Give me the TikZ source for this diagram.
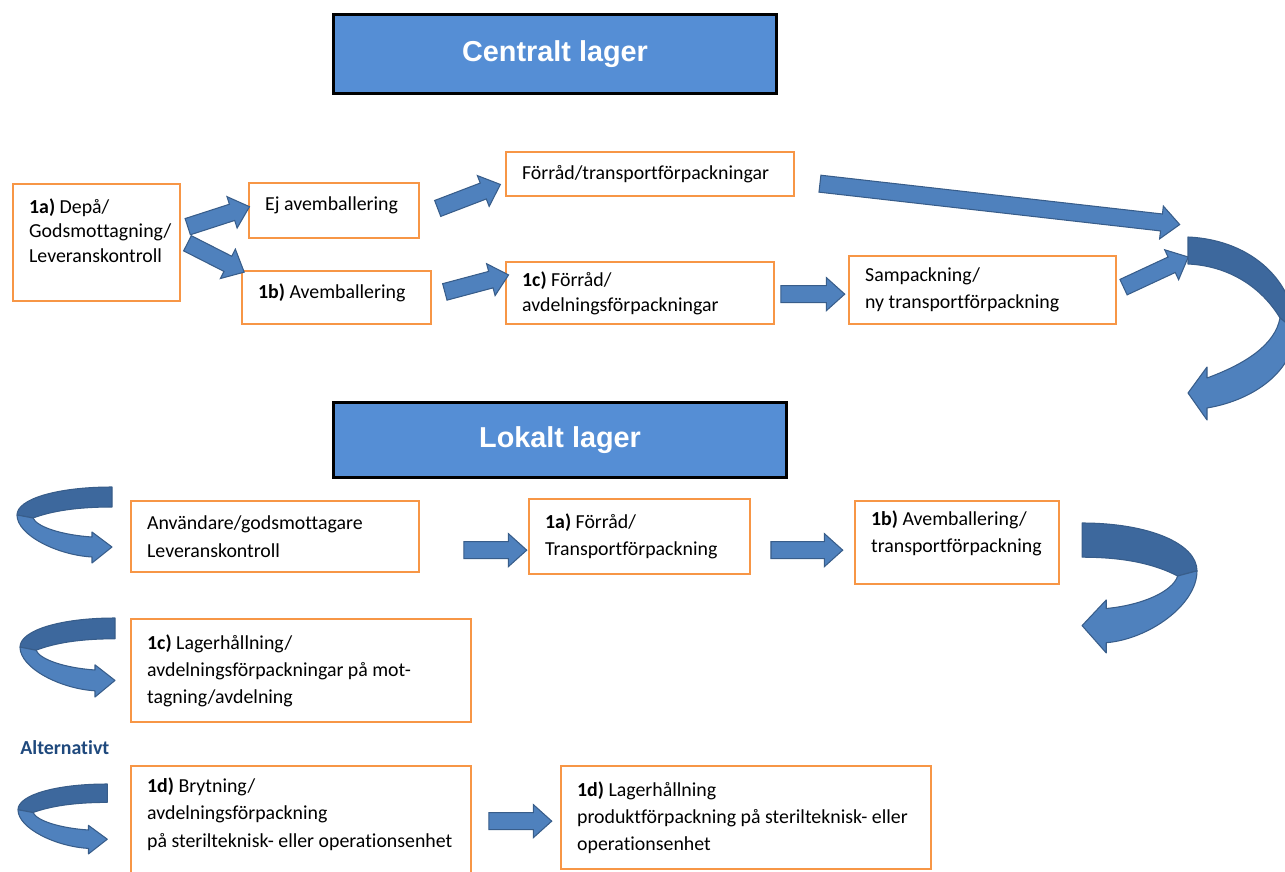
\documentclass[tikz,border=0pt]{standalone}
\usepackage{fontspec}
\setmainfont{Carlito}[Ligatures=NoCommon]
\newfontfamily\titlefont{Liberation Sans}
\usepackage{tikz}
\usetikzlibrary{arrows.meta, positioning, calc, shapes.arrows}
\usepackage{xcolor}
\definecolor{boxorange}{RGB}{247,150,70}
\definecolor{titleblue}{RGB}{85,142,213}
\definecolor{arrowblue}{RGB}{79,129,189}
\definecolor{arrowedge}{RGB}{56,93,138}
\definecolor{turndark}{RGB}{61,104,157}
\definecolor{altblue}{RGB}{31,73,125}

% fat block arrow between two points
\newcommand{\blkarrow}[2]{%
  \path #1 coordinate (ba-s);
  \path #2 coordinate (ba-e);
  \path let \p1=($(ba-e)-(ba-s)$), \n1={atan2(\y1,\x1)}, \n2={veclen(\x1,\y1)} in
    node[blkarr, rotate=\n1, minimum height=\n2] at ($(ba-s)!0.5!(ba-e)$) {};%
}
% u-turn ribbon arrow (opens to the right, tip points right)
\newcommand{\uturn}[3]{%
  \begin{scope}[shift={#1}, xscale=#2, yscale=#3]
    \draw[turnback] (95,0) .. controls (40,0) and (0,12) .. (0,28)
      -- (16,31) .. controls (35,24) and (60,20) .. (95,20) -- cycle;
    \draw[turnfront] (0,28) .. controls (0,48) and (40,68) .. (75,70)
      -- (75,76) -- (95,60) -- (75,45) -- (75,50)
      .. controls (45,48) and (20,40) .. (16,31) -- cycle;
  \end{scope}%
}

\begin{document}
\begin{tikzpicture}[
    x=0.02cm, y=-0.02cm,
    box/.style={draw=boxorange, line width=1.3pt, anchor=north west, align=flush left,
                inner xsep=0.32cm, inner ysep=0pt, font=\fontsize{11.3}{15.5}\selectfont},
    titlebox/.style={draw=black, line width=1.8pt, fill=titleblue, anchor=north west,
                inner sep=0pt, text=white, font=\titlefont\bfseries\fontsize{16.4}{20}\selectfont},
    blkarr/.style={single arrow, draw=arrowedge, fill=arrowblue, line width=0.6pt,
                inner sep=4.55pt, outer sep=0pt, single arrow head extend=4.55pt,
                single arrow tip angle=84},
    turnback/.style={draw=arrowedge, fill=turndark, line width=0.6pt, line join=round},
    turnfront/.style={draw=arrowedge, fill=arrowblue, line width=0.6pt, line join=round},
]
    \useasboundingbox (0,0) rectangle (1285,872);

    % Centralt lager
    \node[titlebox, minimum width=8.86cm, minimum height=1.58cm] (central) at (332,13) {Centralt lager};
    \node[box, text width=2.70cm, minimum height=2.34cm, font=\fontsize{11.3}{13.7}\selectfont] (dep) at (12,183)
        {\textbf{1a)} Depå/\\Godsmottagning/\\Leveranskontroll\\\mbox{}};
    \node[box, text width=2.76cm, minimum height=1.10cm] (ejav) at (248,182) {Ej avemballering\\[-8pt]\mbox{}};
    \node[box, text width=3.14cm, minimum height=1.06cm] (avem) at (241,270) {\textbf{1b)} Avemballering\\[-8pt]\mbox{}};
    \node[box, text width=5.12cm, minimum height=0.88cm] (forrad) at (505,151) {Förråd/transportförpackningar};
    \node[box, text width=4.72cm, minimum height=1.24cm, font=\fontsize{11.3}{14.2}\selectfont] (forc) at (505,261)
        {\textbf{1c)} Förråd/\\avdelningsförpackningar};
    \node[box, text width=4.70cm, minimum height=1.36cm] (samp) at (848,255)
        {Sampackning/\\ny transportförpackning};
    \coordinate (bigturn) at (1188,250);

    % Lokalt lager
    \node[titlebox, minimum width=9.06cm, minimum height=1.50cm] (lokal) at (332,401) {Lokalt lager};
    \node[box, text width=5.12cm, minimum height=1.42cm] (anv) at (130,500)
        {Användare/godsmottagare\\Leveranskontroll};
    \node[box, text width=3.78cm, minimum height=1.50cm] (la) at (528,498)
        {\textbf{1a)} Förråd/\\Transportförpackning};
    \node[box, text width=3.44cm, minimum height=1.66cm] (lb) at (854,500)
        {\textbf{1b)} Avemballering/\\transportförpackning\\[-3pt]\mbox{}};
    \node[box, text width=6.16cm, minimum height=2.06cm] (lc) at (130,618)
        {\textbf{1c)} Lagerhållning/\\avdelningsförpackningar på mot-\\tagning/avdelning};
    \node[anchor=west, inner sep=0pt, text=altblue, font=\bfseries\fontsize{11.3}{13}\selectfont] (alt) at (20,748) {Alternativt};
    \node[box, text width=6.16cm, minimum height=2.40cm] (ld1) at (130,765)
        {\textbf{1d)} Brytning/\\avdelningsförpackning\\på sterilteknisk- eller operationsenhet\\\mbox{}};
    \node[box, text width=6.76cm, minimum height=2.06cm] (ld2) at (560,765)
        {\textbf{1d)} Lagerhållning\\produktförpackning på sterilteknisk- eller\\operationsenhet};

    % block arrows
    \blkarrow{([shift={(2,-14.5)}]dep.east)}{([shift={(-3,-2.5)}]ejav.west)}
    \blkarrow{([shift={(2,-1.5)}]dep.east)}{([shift={(-1,0)}]avem.north west)}
    \blkarrow{([shift={(13,-0.5)}]ejav.east)}{([shift={(-9,12)}]forrad.west)}
    \blkarrow{([shift={(8,-4.5)}]avem.east)}{([shift={(-1,-17)}]forc.west)}
    \blkarrow{([shift={(1,1)}]forc.east)}{([shift={(-8,4)}]samp.west)}
    \blkarrow{([shift={(20,9)}]forrad.east)}{([shift={(-13,-26)}]bigturn)}
    \blkarrow{([shift={(2,-1)}]samp.east)}{([shift={(-4,9)}]bigturn)}
    \blkarrow{([shift={(39,13.5)}]anv.east)}{([shift={(-6,13.5)}]la.west)}
    \blkarrow{([shift={(15,13.5)}]la.east)}{([shift={(-16,7.5)}]lb.west)}
    \blkarrow{([shift={(12,-5)}]ld1.east)}{([shift={(-13,3.5)}]ld2.west)}

    % big u-turn on the right
    \draw[turnback] (1188,237) .. controls (1255,240) and (1295,285) .. (1295,330)
        -- (1280,318) .. controls (1262,288) and (1230,266) .. (1188,264) -- cycle;
    \draw[turnfront] (1295,330) .. controls (1295,370) and (1255,400) .. (1207,408)
        -- (1207,420) -- (1188,393) -- (1207,367) -- (1207,378)
        .. controls (1245,364) and (1275,345) .. (1280,318) -- cycle;

    % small u-turns
    \uturn{(17,487)}{1}{1}
    \uturn{(20,618)}{1}{1.04}
    \uturn{(18,784)}{0.94}{0.92}
    \uturn{(1197,523)}{-1.21}{1.71}
\end{tikzpicture}
\end{document}
